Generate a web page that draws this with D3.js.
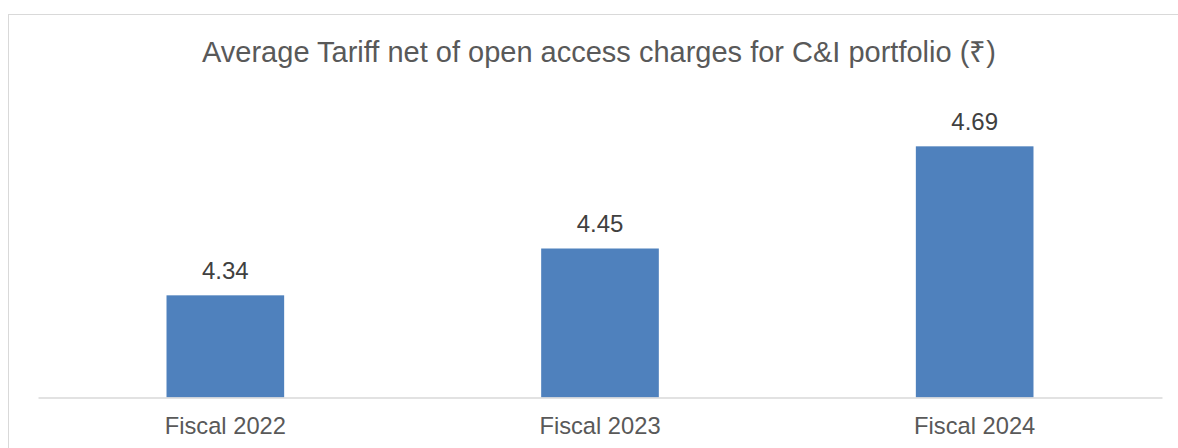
<!DOCTYPE html>
<html><head><meta charset="utf-8">
<script src="https://cdn.jsdelivr.net/npm/d3@7"></script>
<style>body{margin:0;background:#fff}svg{display:block}text{font-family:"Liberation Sans",Arial,sans-serif}</style>
</head><body>
<svg id="c" width="1178" height="448"></svg>
<script>
const categories = ["Fiscal 2022", "Fiscal 2023", "Fiscal 2024"];
const values = [4.34, 4.45, 4.69];
const yDomain = [4.1, 4.8];
const title = "Average Tariff net of open access charges for C&I portfolio (₹)";

const svg = d3.select("#c");
const baseY = 397.5;

svg.append("rect").attr("x", 8.5).attr("y", 14.5).attr("width", 1180).attr("height", 450)
  .attr("fill", "#fff").attr("stroke", "#d9d9d9").attr("stroke-width", 1);

const x = d3.scaleBand().domain(categories).range([38, 1162]).paddingInner(0.686).paddingOuter(0.343);
const y = d3.scaleLinear().domain(yDomain).range([baseY, 99.5]);

svg.append("g").selectAll("rect").data(values).join("rect")
  .attr("x", (d, i) => x(categories[i]))
  .attr("width", x.bandwidth())
  .attr("y", d => y(d))
  .attr("height", d => baseY - y(d))
  .attr("fill", "#4F81BD");

const ax = svg.append("g").attr("transform", `translate(0,${baseY})`)
  .call(d3.axisBottom(x).tickSize(0).tickPadding(0));
ax.select(".domain").attr("stroke", "#d9d9d9").attr("stroke-width", 1.5);
ax.selectAll(".tick text").attr("font-size", 23.7).attr("fill", "#595959")
  .attr("font-family", "Liberation Sans, Arial, sans-serif").attr("dy", 0).attr("y", 36.5);

svg.append("g").selectAll("text").data(values).join("text")
  .attr("x", (d, i) => x(categories[i]) + x.bandwidth() / 2)
  .attr("y", d => y(d) - 16.5)
  .attr("text-anchor", "middle")
  .attr("font-size", 24).attr("fill", "#404040")
  .text(d => d.toFixed(2));

svg.append("text").attr("x", 599).attr("y", 62).attr("text-anchor", "middle")
  .attr("font-size", 29).attr("fill", "#595959").text(title);
</script>
</body></html>
